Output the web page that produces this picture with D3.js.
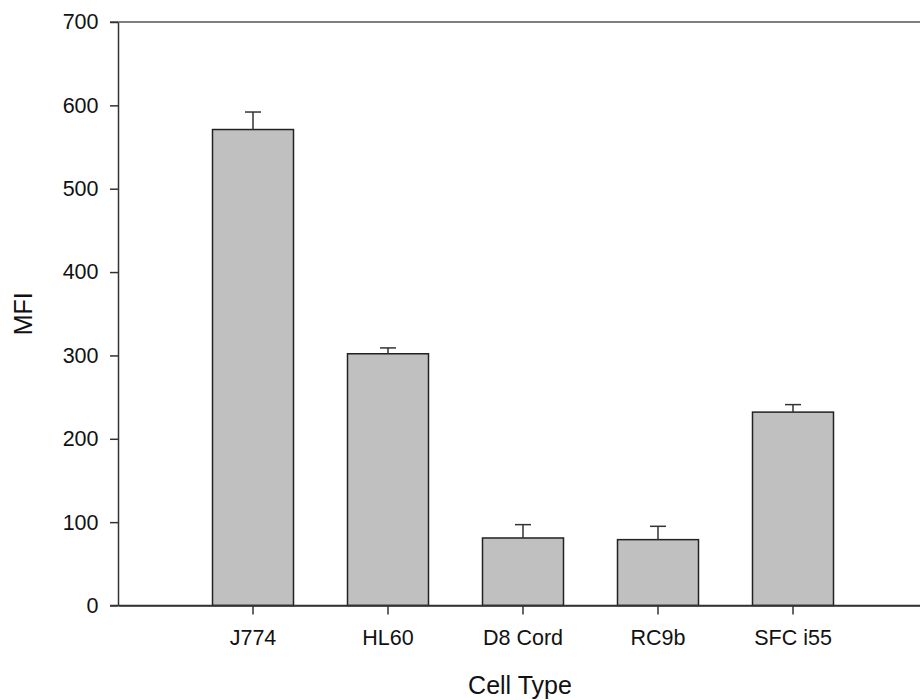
<!DOCTYPE html>
<html>
<head>
<meta charset="utf-8">
<script src="https://cdn.jsdelivr.net/npm/d3@7"></script>
<style>
  body { margin: 0; background: #fff; }
  svg { display: block; font-family: "Liberation Sans", Arial, sans-serif; }
</style>
</head>
<body>
<div class="chart"></div>
<script>
// data
const cellTypes = ["J774", "HL60", "D8 Cord", "RC9b", "SFC i55"];
const mfiValues = [571, 302, 81, 79, 232];
const mfiErrors = [21, 7, 16, 16, 9];
const yTicks = [0, 100, 200, 300, 400, 500, 600, 700];

const width = 920, height = 700;
const margin = { left: 118, right: -8, top: 22, bottom: 94.5 };

const svg = d3.select(".chart").append("svg")
  .attr("width", width)
  .attr("height", height);

const x = d3.scaleBand()
  .domain(cellTypes)
  .range([margin.left, width - margin.right])
  .paddingInner(0.4)
  .paddingOuter(0.7);

const y = d3.scaleLinear()
  .domain([0, 700])
  .range([height - margin.bottom, margin.top]);

const axisColor = "#333";

// frame top line
svg.append("line")
  .attr("x1", margin.left - 8).attr("x2", width - margin.right)
  .attr("y1", y(700)).attr("y2", y(700))
  .attr("stroke", "#555").attr("stroke-width", 1.5);

// bars
svg.append("g").selectAll("rect")
  .data(cellTypes)
  .join("rect")
  .attr("x", d => x(d))
  .attr("y", (d, i) => y(mfiValues[i]))
  .attr("width", x.bandwidth())
  .attr("height", (d, i) => y(0) - y(mfiValues[i]))
  .attr("fill", "#c0c0c0")
  .attr("stroke", "#222")
  .attr("stroke-width", 1.5);

// error bars (upper only)
const err = svg.append("g").attr("stroke", "#333").attr("stroke-width", 1.5);
cellTypes.forEach(function(d, i) {
  let cx = x(d) + x.bandwidth() / 2;
  err.append("line")
    .attr("x1", cx).attr("x2", cx)
    .attr("y1", y(mfiValues[i])).attr("y2", y(mfiValues[i] + mfiErrors[i]));
  err.append("line")
    .attr("x1", cx - 8).attr("x2", cx + 8)
    .attr("y1", y(mfiValues[i] + mfiErrors[i])).attr("y2", y(mfiValues[i] + mfiErrors[i]));
});

// y axis
const yAxis = svg.append("g")
  .attr("transform", `translate(${margin.left},0)`)
  .call(d3.axisLeft(y).tickValues(yTicks).tickSize(8).tickPadding(11.5).tickSizeOuter(0));

// x axis
const xAxis = svg.append("g")
  .attr("transform", `translate(0,${y(0)})`)
  .call(d3.axisBottom(x).tickSize(9).tickPadding(15.5).tickSizeOuter(0));

[yAxis, xAxis].forEach(function(g) {
  g.selectAll("path.domain").attr("stroke", axisColor).attr("stroke-width", 1.5);
  g.selectAll(".tick line").attr("stroke", axisColor).attr("stroke-width", 1.5);
  g.selectAll(".tick text")
    .attr("fill", "#111")
    .style("font-size", "21.5px")
    .style("font-family", '"Liberation Sans", Arial, sans-serif');
});

// bottom line from the 0 tick across
svg.append("line")
  .attr("x1", margin.left - 8).attr("x2", width - margin.right)
  .attr("y1", y(0)).attr("y2", y(0))
  .attr("stroke", axisColor).attr("stroke-width", 1.5);

// axis titles
svg.append("text")
  .attr("x", x(cellTypes[2]) + x.bandwidth() / 2 - 3)
  .attr("y", 694)
  .attr("text-anchor", "middle")
  .attr("fill", "#111")
  .style("font-size", "25px")
  .text("Cell Type");

svg.append("text")
  .attr("transform", `translate(32,${(y(0) + y(700)) / 2}) rotate(-90)`)
  .attr("text-anchor", "middle")
  .attr("fill", "#111")
  .style("font-size", "25px")
  .text("MFI");
</script>
</body>
</html>
